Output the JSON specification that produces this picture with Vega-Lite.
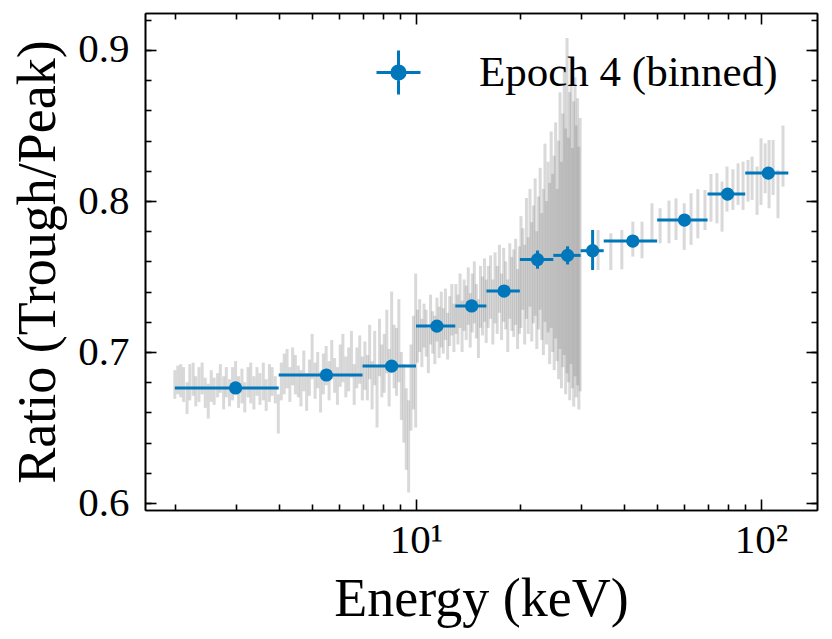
{
  "$schema": "https://vega.github.io/schema/vega-lite/v6.json",
  "autosize": {"type": "none"},
  "width": 672,
  "height": 497,
  "padding": {"left": 145, "top": 13, "right": 15, "bottom": 129},
  "background": "white",
  "config": {
    "view": {"stroke": null},
    "axis": {
      "grid": false,
      "domainColor": "black",
      "domainWidth": 1.6,
      "tickColor": "black",
      "tickWidth": 1.6,
      "labelFont": "Liberation Serif",
      "labelFontSize": 41,
      "labelColor": "black",
      "titleFont": "Liberation Serif",
      "titleFontSize": 54,
      "titleFontWeight": "normal",
      "titleColor": "black"
    }
  },
  "datasets": {
    "grey": [
      {"e":2.00,"lo":0.669,"hi":0.688},{"e":2.04,"lo":0.672,"hi":0.691},{"e":2.08,"lo":0.670,"hi":0.692},{"e":2.12,"lo":0.667,"hi":0.690},
      {"e":2.17,"lo":0.659,"hi":0.680},{"e":2.21,"lo":0.668,"hi":0.692},{"e":2.26,"lo":0.671,"hi":0.693},{"e":2.30,"lo":0.664,"hi":0.684},
      {"e":2.35,"lo":0.667,"hi":0.690},{"e":2.40,"lo":0.672,"hi":0.693},{"e":2.45,"lo":0.663,"hi":0.683},{"e":2.50,"lo":0.656,"hi":0.679},
      {"e":2.55,"lo":0.667,"hi":0.688},{"e":2.60,"lo":0.665,"hi":0.683},{"e":2.66,"lo":0.670,"hi":0.686},{"e":2.71,"lo":0.673,"hi":0.692},
      {"e":2.77,"lo":0.662,"hi":0.684},{"e":2.82,"lo":0.670,"hi":0.690},{"e":2.88,"lo":0.664,"hi":0.682},{"e":2.94,"lo":0.668,"hi":0.690},
      {"e":3.00,"lo":0.672,"hi":0.694},{"e":3.06,"lo":0.663,"hi":0.684},{"e":3.13,"lo":0.666,"hi":0.689},{"e":3.19,"lo":0.660,"hi":0.680},
      {"e":3.26,"lo":0.670,"hi":0.690},{"e":3.32,"lo":0.666,"hi":0.693},{"e":3.39,"lo":0.662,"hi":0.684},{"e":3.46,"lo":0.671,"hi":0.690},
      {"e":3.53,"lo":0.665,"hi":0.686},{"e":3.61,"lo":0.668,"hi":0.693},{"e":3.68,"lo":0.661,"hi":0.682},{"e":3.76,"lo":0.667,"hi":0.692},
      {"e":3.83,"lo":0.671,"hi":0.690},{"e":3.91,"lo":0.666,"hi":0.684},{"e":3.99,"lo":0.646,"hi":0.672},
      {"e":4.07,"lo":0.668,"hi":0.693},{"e":4.15,"lo":0.672,"hi":0.699},{"e":4.23,"lo":0.676,"hi":0.702},{"e":4.31,"lo":0.667,"hi":0.690},
      {"e":4.39,"lo":0.678,"hi":0.703},{"e":4.47,"lo":0.672,"hi":0.698},{"e":4.56,"lo":0.670,"hi":0.691},{"e":4.64,"lo":0.664,"hi":0.688},
      {"e":4.73,"lo":0.674,"hi":0.701},{"e":4.82,"lo":0.661,"hi":0.686},{"e":4.91,"lo":0.671,"hi":0.695},{"e":5.00,"lo":0.682,"hi":0.712},
      {"e":5.10,"lo":0.669,"hi":0.693},{"e":5.19,"lo":0.676,"hi":0.700},{"e":5.29,"lo":0.660,"hi":0.687},{"e":5.39,"lo":0.672,"hi":0.699},
      {"e":5.49,"lo":0.678,"hi":0.704},{"e":5.60,"lo":0.668,"hi":0.694},{"e":5.70,"lo":0.682,"hi":0.708},{"e":5.81,"lo":0.673,"hi":0.696},
      {"e":5.92,"lo":0.665,"hi":0.690},{"e":6.03,"lo":0.677,"hi":0.705},{"e":6.14,"lo":0.680,"hi":0.712},{"e":6.26,"lo":0.670,"hi":0.697},
      {"e":6.38,"lo":0.674,"hi":0.703},{"e":6.50,"lo":0.683,"hi":0.714},{"e":6.62,"lo":0.665,"hi":0.692},{"e":6.74,"lo":0.676,"hi":0.703},
      {"e":6.87,"lo":0.679,"hi":0.711},{"e":6.99,"lo":0.668,"hi":0.697},
      {"e":7.11,"lo":0.675,"hi":0.707},{"e":7.23,"lo":0.668,"hi":0.698},{"e":7.34,"lo":0.682,"hi":0.718},{"e":7.46,"lo":0.662,"hi":0.694},
      {"e":7.59,"lo":0.678,"hi":0.714},{"e":7.71,"lo":0.650,"hi":0.690},{"e":7.84,"lo":0.684,"hi":0.722},{"e":7.96,"lo":0.670,"hi":0.705},
      {"e":8.09,"lo":0.673,"hi":0.712},{"e":8.23,"lo":0.686,"hi":0.728},{"e":8.36,"lo":0.664,"hi":0.702},{"e":8.50,"lo":0.690,"hi":0.740},
      {"e":8.64,"lo":0.676,"hi":0.718},{"e":8.78,"lo":0.671,"hi":0.716},{"e":8.92,"lo":0.680,"hi":0.735},{"e":9.07,"lo":0.655,"hi":0.700},
      {"e":9.22,"lo":0.640,"hi":0.692},{"e":9.37,"lo":0.622,"hi":0.676},{"e":9.52,"lo":0.607,"hi":0.668},{"e":9.67,"lo":0.648,"hi":0.705},
      {"e":9.83,"lo":0.662,"hi":0.724},{"e":9.98,"lo":0.650,"hi":0.752},
      {"e":10.10,"lo":0.693,"hi":0.728},{"e":10.25,"lo":0.700,"hi":0.735},{"e":10.40,"lo":0.690,"hi":0.722},{"e":10.55,"lo":0.703,"hi":0.732},
      {"e":10.70,"lo":0.697,"hi":0.728},{"e":10.86,"lo":0.686,"hi":0.716},{"e":11.02,"lo":0.705,"hi":0.738},{"e":11.18,"lo":0.699,"hi":0.727},
      {"e":11.34,"lo":0.692,"hi":0.724},{"e":11.50,"lo":0.707,"hi":0.736},{"e":11.67,"lo":0.696,"hi":0.730},{"e":11.84,"lo":0.703,"hi":0.740},
      {"e":12.00,"lo":0.699,"hi":0.729},{"e":12.17,"lo":0.708,"hi":0.742},{"e":12.35,"lo":0.695,"hi":0.726},{"e":12.52,"lo":0.704,"hi":0.737},
      {"e":12.70,"lo":0.711,"hi":0.745},{"e":12.88,"lo":0.700,"hi":0.732},
      {"e":13.05,"lo":0.712,"hi":0.745},{"e":13.23,"lo":0.705,"hi":0.738},{"e":13.42,"lo":0.716,"hi":0.752},{"e":13.60,"lo":0.700,"hi":0.734},
      {"e":13.79,"lo":0.714,"hi":0.748},{"e":13.98,"lo":0.708,"hi":0.744},{"e":14.17,"lo":0.718,"hi":0.756},{"e":14.36,"lo":0.703,"hi":0.739},
      {"e":14.56,"lo":0.713,"hi":0.752},{"e":14.76,"lo":0.719,"hi":0.760},{"e":14.96,"lo":0.709,"hi":0.745},{"e":15.17,"lo":0.696,"hi":0.735},
      {"e":15.38,"lo":0.716,"hi":0.757},{"e":15.59,"lo":0.711,"hi":0.750},{"e":15.80,"lo":0.720,"hi":0.762},{"e":15.98,"lo":0.706,"hi":0.748},
      {"e":16.20,"lo":0.716,"hi":0.757},{"e":16.45,"lo":0.722,"hi":0.764},{"e":16.70,"lo":0.705,"hi":0.748},{"e":16.95,"lo":0.719,"hi":0.766},
      {"e":17.20,"lo":0.712,"hi":0.757},{"e":17.45,"lo":0.726,"hi":0.771},{"e":17.70,"lo":0.708,"hi":0.752},{"e":17.95,"lo":0.720,"hi":0.769},
      {"e":18.20,"lo":0.715,"hi":0.760},{"e":18.45,"lo":0.700,"hi":0.748},{"e":18.70,"lo":0.722,"hi":0.772},{"e":18.95,"lo":0.714,"hi":0.763},
      {"e":19.20,"lo":0.710,"hi":0.768},{"e":19.45,"lo":0.718,"hi":0.775},{"e":19.70,"lo":0.702,"hi":0.755},{"e":19.95,"lo":0.712,"hi":0.770},
      {"e":20.15,"lo":0.716,"hi":0.790},{"e":20.40,"lo":0.728,"hi":0.782},{"e":20.65,"lo":0.705,"hi":0.771},{"e":20.90,"lo":0.722,"hi":0.802},
      {"e":21.15,"lo":0.712,"hi":0.776},{"e":21.40,"lo":0.730,"hi":0.808},{"e":21.65,"lo":0.707,"hi":0.786},{"e":21.90,"lo":0.719,"hi":0.797},
      {"e":22.15,"lo":0.724,"hi":0.815},{"e":22.40,"lo":0.702,"hi":0.780},{"e":22.65,"lo":0.715,"hi":0.803},{"e":22.90,"lo":0.728,"hi":0.822},
      {"e":23.15,"lo":0.708,"hi":0.792},{"e":23.40,"lo":0.698,"hi":0.808},{"e":23.65,"lo":0.720,"hi":0.838},{"e":23.90,"lo":0.705,"hi":0.800},
      {"e":24.15,"lo":0.713,"hi":0.826},{"e":24.40,"lo":0.692,"hi":0.812},{"e":24.65,"lo":0.716,"hi":0.846},{"e":24.90,"lo":0.700,"hi":0.818},
      {"e":25.15,"lo":0.688,"hi":0.830},{"e":25.40,"lo":0.709,"hi":0.852},{"e":25.65,"lo":0.694,"hi":0.808},{"e":25.90,"lo":0.682,"hi":0.840},
      {"e":26.15,"lo":0.702,"hi":0.872},{"e":26.40,"lo":0.676,"hi":0.826},{"e":26.65,"lo":0.690,"hi":0.858},{"e":26.90,"lo":0.698,"hi":0.888},
      {"e":27.15,"lo":0.672,"hi":0.848},{"e":27.40,"lo":0.686,"hi":0.908},{"e":27.65,"lo":0.680,"hi":0.842},{"e":27.90,"lo":0.668,"hi":0.872},
      {"e":28.15,"lo":0.692,"hi":0.895},{"e":28.40,"lo":0.676,"hi":0.835},{"e":28.65,"lo":0.664,"hi":0.866},{"e":28.90,"lo":0.684,"hi":0.882},
      {"e":29.15,"lo":0.670,"hi":0.850},{"e":29.40,"lo":0.678,"hi":0.868},{"e":29.65,"lo":0.662,"hi":0.836},{"e":29.90,"lo":0.674,"hi":0.855},
      {"e":33.7,"lo":0.7543,"hi":0.7808},{"e":36.7,"lo":0.7543,"hi":0.7786},{"e":39.5,"lo":0.7548,"hi":0.7808},{"e":42.5,"lo":0.7632,"hi":0.7863},
      {"e":45.2,"lo":0.7621,"hi":0.7863},{"e":48.3,"lo":0.7742,"hi":0.7985},{"e":51.0,"lo":0.7720,"hi":0.7952},{"e":54.1,"lo":0.7720,"hi":0.8003},
      {"e":56.7,"lo":0.7742,"hi":0.8018},{"e":59.9,"lo":0.7676,"hi":0.7985},{"e":62.7,"lo":0.7709,"hi":0.8051},{"e":65.6,"lo":0.7753,"hi":0.8078},
      {"e":68.8,"lo":0.7808,"hi":0.8073},{"e":71.6,"lo":0.7863,"hi":0.8179},{"e":74.5,"lo":0.7852,"hi":0.8184},{"e":77.1,"lo":0.7797,"hi":0.8129},
      {"e":79.7,"lo":0.7930,"hi":0.8228},{"e":82.9,"lo":0.7941,"hi":0.8210},{"e":85.8,"lo":0.7974,"hi":0.8250},{"e":88.7,"lo":0.7941,"hi":0.8261},
      {"e":91.7,"lo":0.7996,"hi":0.8272},{"e":94.2,"lo":0.8007,"hi":0.8294},{"e":97.4,"lo":0.7908,"hi":0.8228},{"e":100.0,"lo":0.7974,"hi":0.8415},
      {"e":102.8,"lo":0.8051,"hi":0.8382},{"e":105.5,"lo":0.7952,"hi":0.8404},{"e":108.4,"lo":0.8040,"hi":0.8404},{"e":112.0,"lo":0.7886,"hi":0.8206},
      {"e":115.8,"lo":0.8095,"hi":0.8500}
    ],
    "binned": [
      {"e":3.0,"e0":2,"e1":4,"r":0.6762,"rlo":0.6742,"rhi":0.6782},
      {"e":5.5,"e0":4,"e1":7,"r":0.6848,"rlo":0.6828,"rhi":0.6868},
      {"e":8.5,"e0":7,"e1":10,"r":0.6907,"rlo":0.6877,"rhi":0.6937},
      {"e":11.5,"e0":10,"e1":13,"r":0.7172,"rlo":0.7142,"rhi":0.7202},
      {"e":14.5,"e0":13,"e1":16,"r":0.7305,"rlo":0.7275,"rhi":0.7335},
      {"e":18.0,"e0":16,"e1":20,"r":0.7404,"rlo":0.7374,"rhi":0.7434},
      {"e":22.5,"e0":20,"e1":25,"r":0.7612,"rlo":0.7552,"rhi":0.7672},
      {"e":27.5,"e0":25,"e1":30,"r":0.7640,"rlo":0.7580,"rhi":0.7700},
      {"e":32.5,"e0":30,"e1":35,"r":0.7671,"rlo":0.7543,"rhi":0.7808},
      {"e":42.5,"e0":35,"e1":50,"r":0.7735,"rlo":0.7695,"rhi":0.7775},
      {"e":60.0,"e0":50,"e1":70,"r":0.7874,"rlo":0.7834,"rhi":0.7914},
      {"e":80.0,"e0":70,"e1":90,"r":0.8046,"rlo":0.8006,"rhi":0.8086},
      {"e":105.0,"e0":90,"e1":120,"r":0.8185,"rlo":0.8145,"rhi":0.8225}
    ]
  },
  "resolve": {
    "scale": {"x": "independent", "y": "independent"},
    "axis": {"x": "independent", "y": "independent"}
  },
  "layer": [
    {
      "data": {"name": "grey"},
      "mark": {"type": "rule", "color": "gray", "opacity": 0.3, "strokeWidth": 3},
      "encoding": {
        "x": {
          "field": "e", "type": "quantitative",
          "scale": {"type": "log", "domain": [1.639, 145.3], "nice": false, "zero": false},
          "axis": {
            "orient": "bottom", "values": [10, 100], "tickSize": -11, "labelPadding": 21,
            "labelExpr": "datum.value == 10 ? '10¹' : '10²'",
            "title": "Energy (keV)", "titlePadding": 12
          }
        },
        "y": {
          "field": "lo", "type": "quantitative",
          "scale": {"domain": [0.5954, 0.9245], "nice": false, "zero": false},
          "axis": {
            "orient": "left", "values": [0.6, 0.7, 0.8, 0.9], "format": ".1f",
            "tickSize": -11, "labelPadding": 27,
            "title": "Ratio (Trough/Peak)", "titlePadding": 12
          }
        },
        "y2": {"field": "hi"}
      }
    },
    {
      "data": {"name": "binned"},
      "mark": {"type": "rule", "color": "#0077BB", "strokeWidth": 3},
      "encoding": {
        "x": {
          "field": "e0", "type": "quantitative",
          "scale": {"type": "log", "domain": [1.639, 145.3], "nice": false, "zero": false},
          "axis": {
            "orient": "bottom", "values": [2, 3, 4, 5, 6, 7, 8, 9, 20, 30, 40, 50, 60, 70, 80, 90],
            "tickSize": -6, "labels": false, "title": null
          }
        },
        "x2": {"field": "e1"},
        "y": {
          "field": "r", "type": "quantitative",
          "scale": {"domain": [0.5954, 0.9245], "nice": false, "zero": false},
          "axis": {
            "orient": "left",
            "values": [0.6, 0.62, 0.64, 0.66, 0.68, 0.7, 0.72, 0.74, 0.76, 0.78, 0.8, 0.82, 0.84, 0.86, 0.88, 0.9, 0.92],
            "tickSize": -6, "labels": false, "title": null
          }
        }
      }
    },
    {
      "data": {"name": "binned"},
      "mark": {"type": "rule", "color": "#0077BB", "strokeWidth": 3},
      "encoding": {
        "x": {
          "field": "e", "type": "quantitative",
          "scale": {"type": "log", "domain": [1.639, 145.3], "nice": false, "zero": false},
          "axis": {"orient": "top", "values": [10, 100], "tickSize": -11, "labels": false, "title": null}
        },
        "y": {
          "field": "rlo", "type": "quantitative",
          "scale": {"domain": [0.5954, 0.9245], "nice": false, "zero": false},
          "axis": {"orient": "right", "values": [0.6, 0.7, 0.8, 0.9], "tickSize": -11, "labels": false, "title": null}
        },
        "y2": {"field": "rhi"}
      }
    },
    {
      "data": {"name": "binned"},
      "mark": {"type": "point", "filled": true, "size": 175, "opacity": 1},
      "encoding": {
        "x": {
          "field": "e", "type": "quantitative",
          "scale": {"type": "log", "domain": [1.639, 145.3], "nice": false, "zero": false},
          "axis": {
            "orient": "top", "values": [2, 3, 4, 5, 6, 7, 8, 9, 20, 30, 40, 50, 60, 70, 80, 90],
            "tickSize": -6, "labels": false, "title": null
          }
        },
        "y": {
          "field": "r", "type": "quantitative",
          "scale": {"domain": [0.5954, 0.9245], "nice": false, "zero": false},
          "axis": {
            "orient": "right",
            "values": [0.6, 0.62, 0.64, 0.66, 0.68, 0.7, 0.72, 0.74, 0.76, 0.78, 0.8, 0.82, 0.84, 0.86, 0.88, 0.9, 0.92],
            "tickSize": -6, "labels": false, "title": null
          }
        },
        "color": {
          "datum": "Epoch 4 (binned)",
          "scale": {"range": ["#0077BB"]},
          "legend": {
            "orient": "none", "legendX": 230, "legendY": 36, "title": null, "padding": 0,
            "symbolType": "M-1,0L1,0M0,-1L0,1M-0.3,0A0.3,0.3,0,1,0,0.3,0A0.3,0.3,0,1,0,-0.3,0Z",
            "symbolSize": 1936,
            "symbolStrokeWidth": 3,
            "symbolStrokeColor": "#0077BB",
            "symbolFillColor": "#0077BB",
            "labelFont": "Liberation Serif", "labelFontSize": 43, "labelColor": "black",
            "labelOffset": 57, "labelLimit": 500,
            "encode": {
              "symbols": {
                "update": {
                  "stroke": {"value": "#0077BB"},
                  "strokeWidth": {"value": 3},
                  "fill": {"value": "#0077BB"},
                  "opacity": {"value": 1}
                }
              }
            }
          }
        }
      }
    }
  ]
}
